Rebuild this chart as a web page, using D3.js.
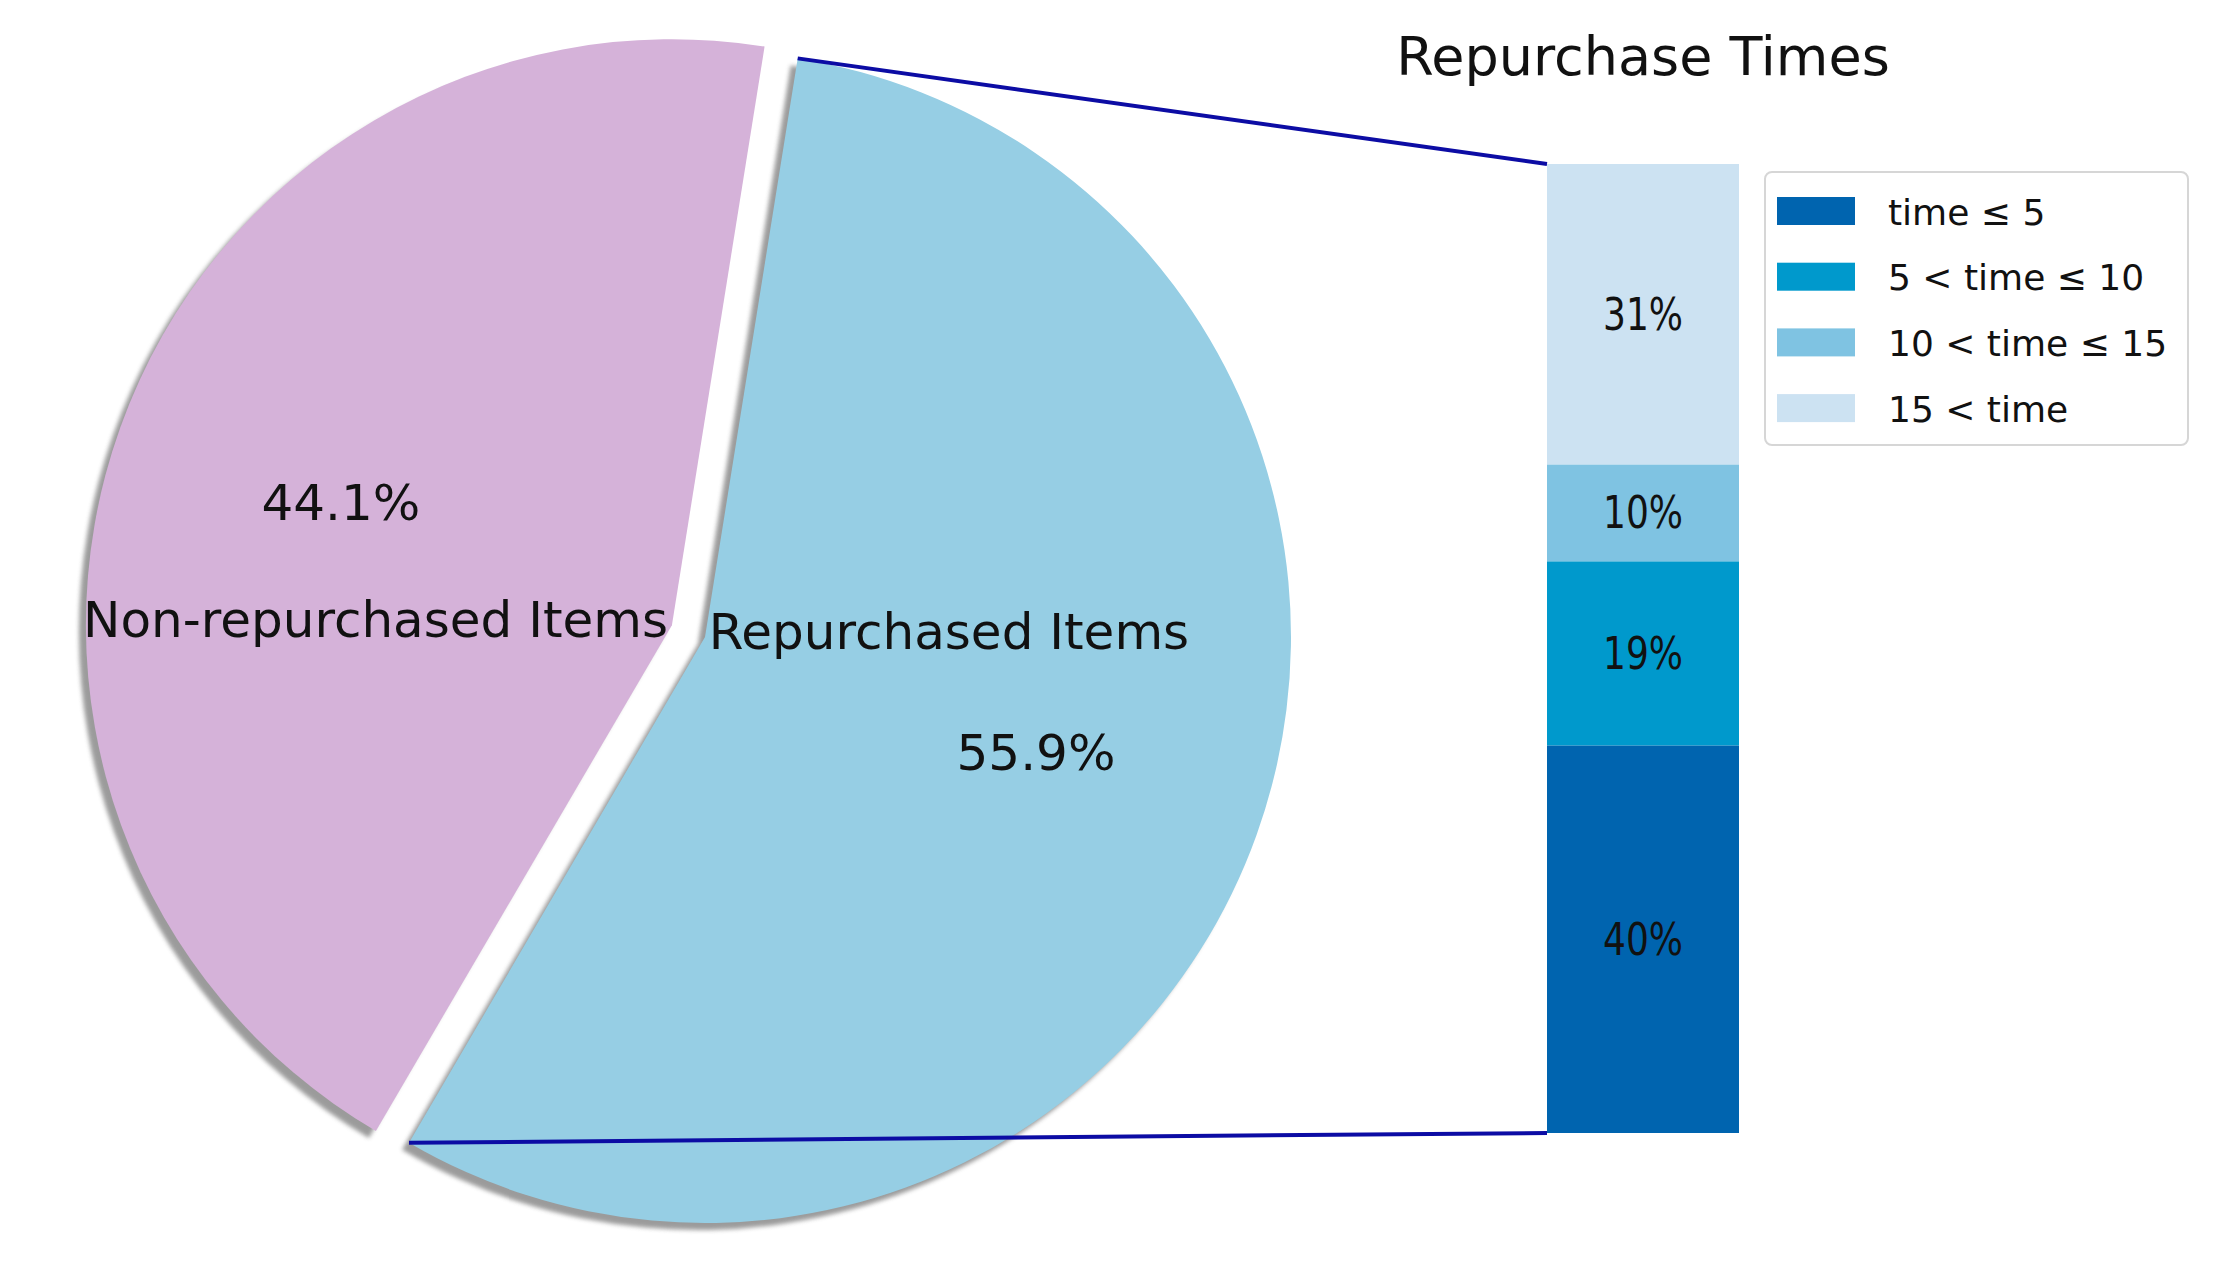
<!DOCTYPE html>
<html>
<head>
<meta charset="utf-8">
<script src="https://cdn.jsdelivr.net/npm/d3@7"></script>
<style>
  html, body { margin: 0; padding: 0; background: #ffffff; }
  text { font-family: "DejaVu Sans", sans-serif; fill: #111111; }
</style>
</head>
<body>
<div id="chart"></div>
<script>
// pie data
var pieLabels = ["Repurchased Items", "Non-repurchased Items"],
	pieValues = [55.9, 44.1],
	pieColors = ["#96cee4", "#d5b2d9"],
	pieExplode = [0, 0.06];

// bar-of-pie data (bottom to top)
var barLabels = ["time \u2264 5", "5 < time \u2264 10", "10 < time \u2264 15", "15 < time"],
	barValues = [40, 19, 10, 31],
	barColors = ["#0064af", "#0099cc", "#7fc3e2", "#cce2f2"],
	barTitle = "Repurchase Times";

var SVGwidth = 2240,
	SVGheight = 1288,
	pieCx = 705,
	pieCy = 637,
	radius = 586,
	startDeg = 9.1,
	pctDistance = 0.6,
	labelDistance = 0.007;

var svg = d3.select("#chart").append("svg")
	.attr("width", SVGwidth)
	.attr("height", SVGheight);

var defs = svg.append("defs");
defs.append("filter")
	.attr("id", "blur")
	.attr("x", "-10%").attr("y", "-10%")
	.attr("width", "120%").attr("height", "120%")
	.append("feGaussianBlur")
	.attr("stdDeviation", 2.2);

/* ---------------- pie ---------------- */

var pie = d3.pie()
	.sort(null)
	.startAngle(startDeg * Math.PI / 180)
	.endAngle(startDeg * Math.PI / 180 + 2 * Math.PI);

var arc = d3.arc().innerRadius(0).outerRadius(radius);

var slices = pie(pieValues).map(function(d, i) {
	var mid = (d.startAngle + d.endAngle) / 2,
		off = pieExplode[i] * radius;
	d.mid = mid;
	d.dir = [Math.sin(mid), -Math.cos(mid)];
	d.cx = pieCx + d.dir[0] * off;
	d.cy = pieCy + d.dir[1] * off;
	return d;
});

var pieG = svg.append("g").attr("class", "pie");

// shadows first
pieG.selectAll(".shadow")
	.data(slices)
	.enter().append("path")
	.attr("class", "shadow")
	.attr("transform", function(d) { return "translate(" + (d.cx - 7) + "," + (d.cy + 7) + ")"; })
	.attr("d", arc)
	.attr("fill", "#7a7a7a")
	.attr("opacity", 0.75)
	.attr("filter", "url(#blur)");

pieG.selectAll(".wedge")
	.data(slices)
	.enter().append("path")
	.attr("class", "wedge")
	.attr("transform", function(d) { return "translate(" + d.cx + "," + d.cy + ")"; })
	.attr("d", arc)
	.attr("fill", function(d, i) { return pieColors[i]; });

// category labels
pieG.selectAll(".pie-label")
	.data(slices)
	.enter().append("text")
	.attr("class", "pie-label")
	.attr("x", function(d) { return d.cx + d.dir[0] * labelDistance * radius; })
	.attr("y", function(d) { return d.cy - 5; })
	.attr("dominant-baseline", "central")
	.attr("text-anchor", function(d) { return d.dir[0] > 0 ? "start" : "end"; })
	.style("font-size", "50px")
	.text(function(d, i) { return pieLabels[i]; });

// percentages
pieG.selectAll(".pct-label")
	.data(slices)
	.enter().append("text")
	.attr("class", "pct-label")
	.attr("x", function(d) { return d.cx + d.dir[0] * pctDistance * radius; })
	.attr("y", function(d) { return d.cy + d.dir[1] * pctDistance * radius - 3; })
	.attr("dominant-baseline", "central")
	.attr("text-anchor", "middle")
	.style("font-size", "50px")
	.text(function(d) { return d.data.toFixed(1) + "%"; });

/* ---------------- bar ---------------- */

var barLeft = 1547, barRight = 1739,
	barTop = 164, barBottom = 1133;

var xBar = d3.scaleBand().domain(["bar"]).range([barLeft, barRight]).padding(0);
var yBar = d3.scaleLinear().domain([0, d3.sum(barValues)]).range([barBottom, barTop]);

var cum = 0;
var segs = barValues.map(function(v, i) {
	var s = { y0: cum, y1: cum + v, value: v, i: i };
	cum += v;
	return s;
});

var barG = svg.append("g").attr("class", "bar");

barG.selectAll("rect")
	.data(segs)
	.enter().append("rect")
	.attr("x", xBar("bar"))
	.attr("width", xBar.bandwidth())
	.attr("y", function(d) { return yBar(d.y1); })
	.attr("height", function(d) { return yBar(d.y0) - yBar(d.y1); })
	.attr("fill", function(d) { return barColors[d.i]; });

barG.selectAll(".bar-label")
	.data(segs)
	.enter().append("text")
	.attr("class", "bar-label")
	.attr("transform", function(d) {
		var x = xBar("bar") + xBar.bandwidth() / 2,
			y = (yBar(d.y0) + yBar(d.y1)) / 2;
		return "translate(" + x + "," + y + ") scale(0.8,1)";
	})
	.attr("dominant-baseline", "central")
	.attr("text-anchor", "middle")
	.style("font-size", "45px")
	.text(function(d) { return d.value + "%"; });

svg.append("text")
	.attr("class", "title")
	.attr("x", xBar("bar") + xBar.bandwidth() / 2)
	.attr("y", 75)
	.attr("text-anchor", "middle")
	.style("font-size", "54px")
	.text(barTitle);

/* ---------------- connection lines ---------------- */

var blue = slices[0];
var corners = [
	{ a: blue.startAngle, bx: barLeft, by: yBar(d3.sum(barValues)) },
	{ a: blue.endAngle, bx: barLeft, by: yBar(0) }
];

svg.selectAll(".conn")
	.data(corners)
	.enter().append("line")
	.attr("class", "conn")
	.attr("x1", function(d) { return blue.cx + radius * Math.sin(d.a); })
	.attr("y1", function(d) { return blue.cy - radius * Math.cos(d.a); })
	.attr("x2", function(d) { return d.bx; })
	.attr("y2", function(d) { return d.by; })
	.attr("stroke", "#0c0ca4")
	.attr("stroke-width", 4);

/* ---------------- legend ---------------- */

var legend = svg.append("g")
	.attr("class", "legend")
	.attr("transform", "translate(1765,172)");

legend.append("rect")
	.attr("width", 423)
	.attr("height", 273)
	.attr("rx", 7)
	.attr("fill", "#ffffff")
	.attr("stroke", "#d6d6d6")
	.attr("stroke-width", 2);

var rows = legend.selectAll(".row")
	.data(barLabels)
	.enter().append("g")
	.attr("class", "row")
	.attr("transform", function(d, i) { return "translate(0," + (39 + i * 65.7) + ")"; });

rows.append("rect")
	.attr("x", 12)
	.attr("y", -14)
	.attr("width", 78)
	.attr("height", 28)
	.attr("fill", function(d, i) { return barColors[i]; });

rows.append("text")
	.attr("x", 123)
	.attr("y", 1)
	.attr("dominant-baseline", "central")
	.style("font-size", "36px")
	.text(function(d) { return d; });
</script>
</body>
</html>
